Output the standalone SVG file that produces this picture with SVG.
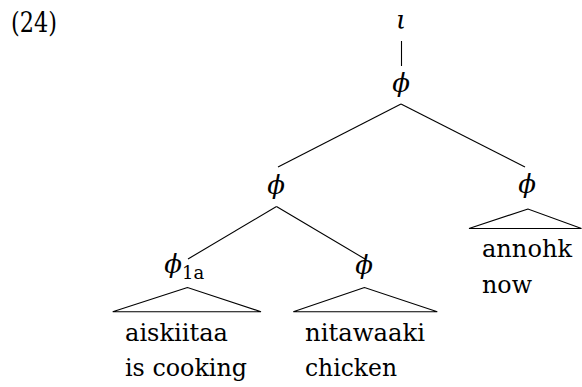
<svg xmlns="http://www.w3.org/2000/svg" width="582" height="387" viewBox="0 0 582 387">
<style>
  text { font-family: 'DejaVu Serif', 'Liberation Serif', serif; fill: #000; }
  .t { font-size: 25px; }
  .n { font-size: 28px; }
  .g { font-size: 26px; font-style: italic; text-anchor: middle; }
  .s { font-size: 18px; }
  .e { stroke: #000; stroke-width: 1.1; fill: none; }
</style>
<rect width="582" height="387" fill="#fff"/>
<text id="label" class="n" x="11" y="32" textLength="46" lengthAdjust="spacingAndGlyphs">(24)</text>
<g id="connectors">
  <line class="e" x1="401.5" y1="41" x2="401.5" y2="66"/>
  <line class="e" x1="401" y1="104" x2="278" y2="167"/>
  <line class="e" x1="401" y1="104" x2="525" y2="167"/>
  <line class="e" x1="276.5" y1="206.5" x2="188" y2="259"/>
  <line class="e" x1="276.5" y1="206.5" x2="365" y2="259"/>
</g>
<g id="iota"><text class="g" x="401" y="29">ι</text></g>
<g id="phi-root"><text class="g" x="401" y="92">ϕ</text></g>
<g id="phi-left"><text class="g" x="276" y="194">ϕ</text></g>
<g id="phi-right">
  <text class="g" x="527" y="193">ϕ</text>
  <polygon class="e" points="528,209 469,228.5 581.5,228.5"/>
  <text class="t" x="482" y="257" textLength="90" lengthAdjust="spacingAndGlyphs">annohk</text>
  <text class="t" x="482" y="293" textLength="50" lengthAdjust="spacingAndGlyphs">now</text>
</g>
<g id="phi-1a">
  <text class="g" x="173" y="273">ϕ</text>
  <text class="s" x="182" y="279">1a</text>
  <polygon class="e" points="187.5,287.5 112.7,311.7 261,311.7"/>
  <text class="t" x="125" y="341" textLength="103" lengthAdjust="spacingAndGlyphs">aiskiitaa</text>
  <text class="t" x="125" y="376" textLength="122" lengthAdjust="spacingAndGlyphs">is cooking</text>
</g>
<g id="phi-mid">
  <text class="g" x="364" y="274">ϕ</text>
  <polygon class="e" points="364.5,287.5 293.3,311.7 437.3,311.7"/>
  <text class="t" x="305" y="341" textLength="120" lengthAdjust="spacingAndGlyphs">nitawaaki</text>
  <text class="t" x="305" y="376" textLength="92" lengthAdjust="spacingAndGlyphs">chicken</text>
</g>
</svg>
